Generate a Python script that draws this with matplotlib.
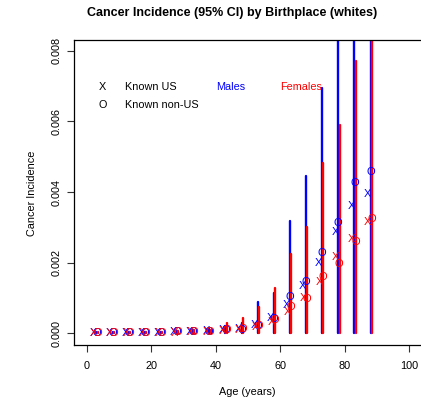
import numpy as np
import matplotlib
matplotlib.use("Agg")
import matplotlib.pyplot as plt

plt.rcParams['font.family'] = ['Liberation Sans', 'DejaVu Sans']

# Age-group midpoints (years)
age_mid = [2.5, 7.5, 12.5, 17.5, 22.5, 27.5, 32.5, 37.5, 42.5,
           47.5, 52.5, 57.5, 62.5, 67.5, 72.5, 77.5, 82.5, 87.5]

# Incidence rates, males
male_us = [0.00001, 0.00001, 0.00001, 0.00002, 0.00002, 0.00003, 0.00004, 0.00006, 0.00008,
           0.00012, 0.00024, 0.00042, 0.00080, 0.00135, 0.00200, 0.00286, 0.00361, 0.00395]
male_nonus = [0.00001, 0.00001, 0.00001, 0.00001, 0.00002, 0.00003, 0.00004, 0.00005, 0.00008,
              0.00010, 0.00022, 0.00040, 0.00104, 0.00146, 0.00228, 0.00313, 0.00427, 0.00457]
male_ci_lo = [0.0] * 18
male_ci_hi = [0.00003, 0.00003, 0.00003, 0.00004, 0.00005, 0.00006, 0.00008, 0.00012, 0.00022,
              0.00030, 0.00088, 0.00113, 0.00319, 0.00446, 0.00694, 0.01100, 0.01300, 0.01600]

# Incidence rates, females
female_us = [0.00001, 0.00001, 0.00001, 0.00001, 0.00002, 0.00002, 0.00003, 0.00005, 0.00007,
             0.00010, 0.00019, 0.00033, 0.00061, 0.00099, 0.00146, 0.00215, 0.00267, 0.00316]
female_nonus = [0.00001, 0.00001, 0.00001, 0.00001, 0.00002, 0.00003, 0.00003, 0.00005, 0.00008,
                0.00012, 0.00020, 0.00038, 0.00074, 0.00098, 0.00159, 0.00196, 0.00258, 0.00323]
female_ci_lo = [0.0] * 18
female_ci_hi = [0.00003, 0.00003, 0.00003, 0.00004, 0.00005, 0.00006, 0.00008, 0.00010, 0.00030,
                0.00044, 0.00075, 0.00127, 0.00225, 0.00300, 0.00483, 0.00590, 0.00770, 0.01200]

x_ticks = [0, 20, 40, 60, 80, 100]
y_ticks = [0.000, 0.002, 0.004, 0.006, 0.008]
y_tick_labels = ["0.000", "0.002", "0.004", "0.006", "0.008"]

BLUE = "#0000FF"
RED = "#FF0000"

W, H = 421, 404
fig = plt.figure(figsize=(W / 100, H / 100), dpi=100)
ax_left, ax_right = 73.8, 422.1
ax_top, ax_bottom = 39.6, 344.6
ax = fig.add_axes([ax_left / W, 1 - ax_bottom / H,
                   (ax_right - ax_left) / W, (ax_bottom - ax_top) / H])
ax.set_xlim(-4, 104)
ax.set_ylim(-0.00032, 0.00832)

mid = np.array(age_mid)
mk = dict(ha="center", va="center", fontsize=8, clip_on=True)

# Point estimates: X = known US-born, O = known non-US-born
for xm, ym_us, ym_non, yf_us, yf_non in zip(mid, male_us, male_nonus,
                                             female_us, female_nonus):
    ax.text(xm - 0.5, ym_us, "X", color=BLUE, **mk)
    ax.text(xm + 0.5, ym_non, "O", color=BLUE, **mk)
    ax.text(xm - 0.3, yf_us, "X", color=RED, **mk)
    ax.text(xm + 0.8, yf_non, "O", color=RED, **mk)

# 95% confidence intervals
ax.vlines(mid + 0.5, male_ci_lo, male_ci_hi, colors=BLUE, linewidth=1.7,
          capstyle="round")
ax.vlines(mid + 0.9, female_ci_lo, female_ci_hi, colors=RED, linewidth=1.7,
          capstyle="round")

# Key
kt = dict(fontsize=7.8, va="center")
ax.text(5.0, 0.00697, "X", ha="center", color="black", **kt)
ax.text(5.0, 0.00647, "O", ha="center", color="black", **kt)
ax.text(11.9, 0.00697, "Known US", ha="left", color="black", **kt)
ax.text(11.9, 0.00647, "Known non-US", ha="left", color="black", **kt)
ax.text(40.0, 0.00697, "Males", ha="left", color=BLUE, **kt)
ax.text(60.0, 0.00697, "Females", ha="left", color=RED, **kt)

ax.set_xticks(x_ticks)
ax.set_xticklabels([str(v) for v in x_ticks], fontsize=7.8)
ax.set_yticks(y_ticks)
ax.set_yticklabels(y_tick_labels, fontsize=7.8, rotation=90, va="center")
ax.tick_params(axis="both", direction="out", length=5, width=0.8, color="#333333")
ax.tick_params(axis="x", pad=7)
ax.tick_params(axis="y", pad=4)

for s in ax.spines.values():
    s.set_color("black")
    s.set_linewidth(0.9)

fig.text(232 / W, 1 - 13 / H, "Cancer Incidence (95% CI) by Birthplace (whites)",
         ha="center", va="center", fontsize=9, fontweight="bold")
fig.text(32 / W, 1 - 193 / H, "Cancer Incidence", ha="center", va="center",
         rotation=90, fontsize=7.8)
fig.text(247 / W, 1 - 392 / H, "Age (years)", ha="center", va="center", fontsize=7.8)

fig.savefig("out.png", dpi=100)
